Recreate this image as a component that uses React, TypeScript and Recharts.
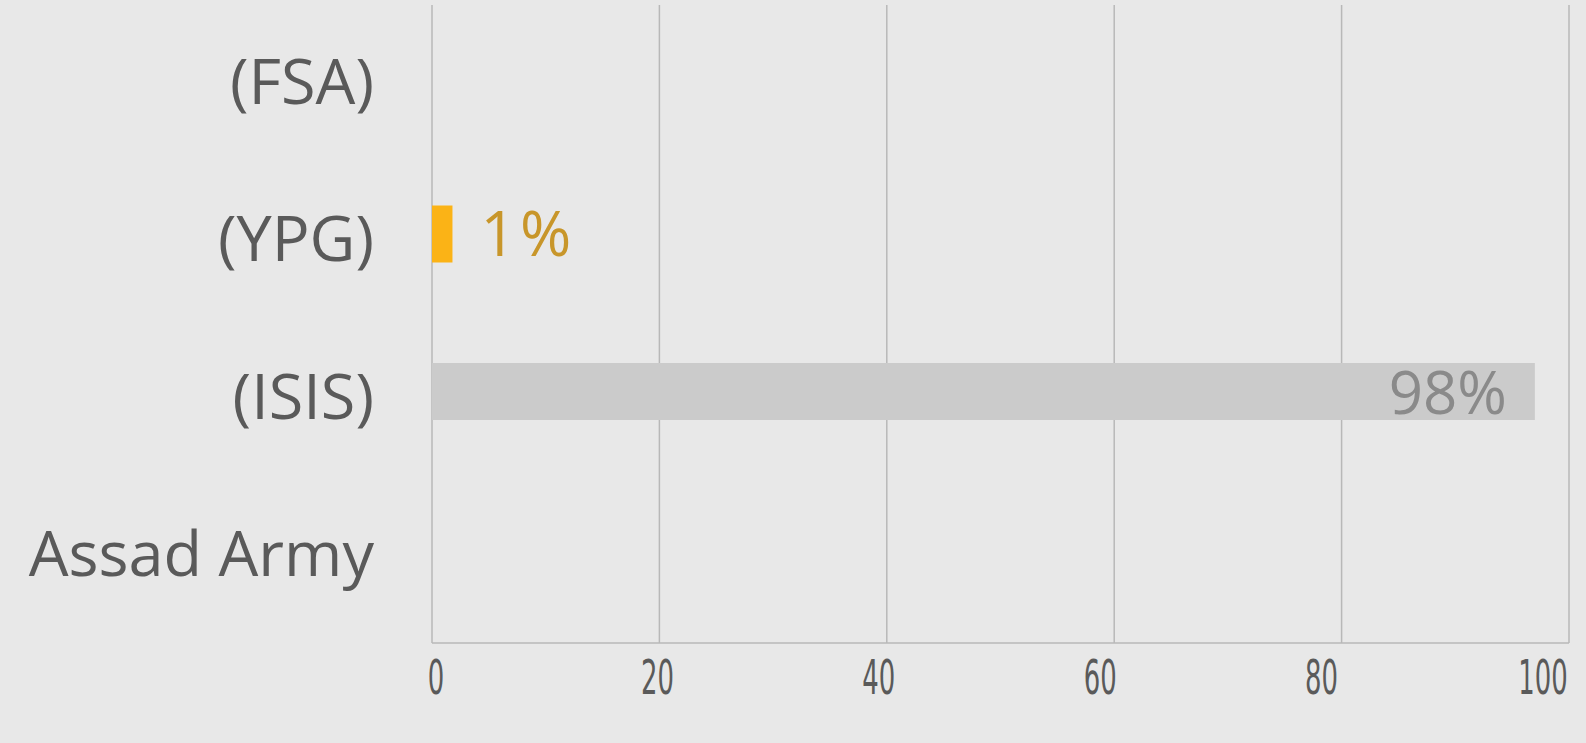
import React from "react";
import { BarChart, Bar, XAxis, YAxis, CartesianGrid, LabelList, Cell } from "recharts";

const categories = ["(FSA)", "(YPG)", "(ISIS)", "Assad Army"];
const values = [0, 1.8, 97, 0];
const valueLabels = ["", "1%", "98%", ""];
const barColors = ["#fbb316", "#fbb316", "#cbcbcb", "#cbcbcb"];
const insideLabelColor = "#8a8a8a";
const outsideLabelColor = "#c8962a";
const xTicks = [0, 20, 40, 60, 80, 100];

const data = categories.map((c, i) => ({ name: c, value: values[i], label: valueLabels[i] }));

const XTick = (props: any) => {
  const { x, y, payload } = props;
  const v = payload.value as number;
  return (
    <g transform={`translate(${x + 4 - 0.3 * v},${y + 43})`}>
      <text
        transform="scale(0.6,1)"
        textAnchor="middle"
        fontFamily="'Liberation Sans Narrow', 'DejaVu Sans Condensed', sans-serif"
        fontSize={48}
        fill="#5a5a5a"
      >
        {v}
      </text>
    </g>
  );
};

const YTick = (props: any) => {
  const { x, y, payload } = props;
  return (
    <text
      x={x}
      y={y}
      dy={27}
      textAnchor="end"
      fontFamily="'Open Sans', sans-serif"
      fontSize={63}
      fill="#5a5a5a"
    >
      {payload.value}
    </text>
  );
};

const renderLabel = (props: any) => {
  const { x, y, width, height, value } = props;
  if (!value) return null;
  const cy = y + height / 2 + 22;
  if (width > 200) {
    return (
      <text x={x + width - 28} y={cy} textAnchor="end" fontFamily="'Open Sans', sans-serif" fontSize={60} fill={insideLabelColor}>
        {value}
      </text>
    );
  }
  return (
    <text x={x + width + 28} y={cy} textAnchor="start" fontFamily="'Open Sans', sans-serif" fontSize={62} letterSpacing={4} fill={outsideLabelColor}>
      {value}
    </text>
  );
};

export default function App() {
  return (
    <div style={{ position: "absolute", left: 0, top: 0, width: 1586, height: 743, background: "#e8e8e8" }}>
      <BarChart
        width={1586}
        height={743}
        data={data}
        layout="vertical"
        margin={{ top: 5, right: 17, bottom: 0, left: 0 }}
      >
        <CartesianGrid horizontal={false} vertical={true} stroke="#b8b8b8" strokeWidth={1.5} />
        <XAxis
          type="number"
          domain={[0, 100]}
          ticks={xTicks}
          height={100}
          axisLine={{ stroke: "#b8b8b8", strokeWidth: 1.5 }}
          tickLine={false}
          tick={<XTick />}
          interval={0}
        />
        <YAxis
          type="category"
          dataKey="name"
          width={432}
          axisLine={false}
          tickLine={false}
          tick={<YTick />}
          padding={{ top: -7, bottom: 15 }}
          tickMargin={52}
          interval={0}
        />
        <Bar dataKey="value" barSize={57} isAnimationActive={false}>
          {data.map((d, i) => (
            <Cell key={d.name} fill={barColors[i]} />
          ))}
          <LabelList dataKey="label" content={renderLabel} />
        </Bar>
      </BarChart>
    </div>
  );
}
